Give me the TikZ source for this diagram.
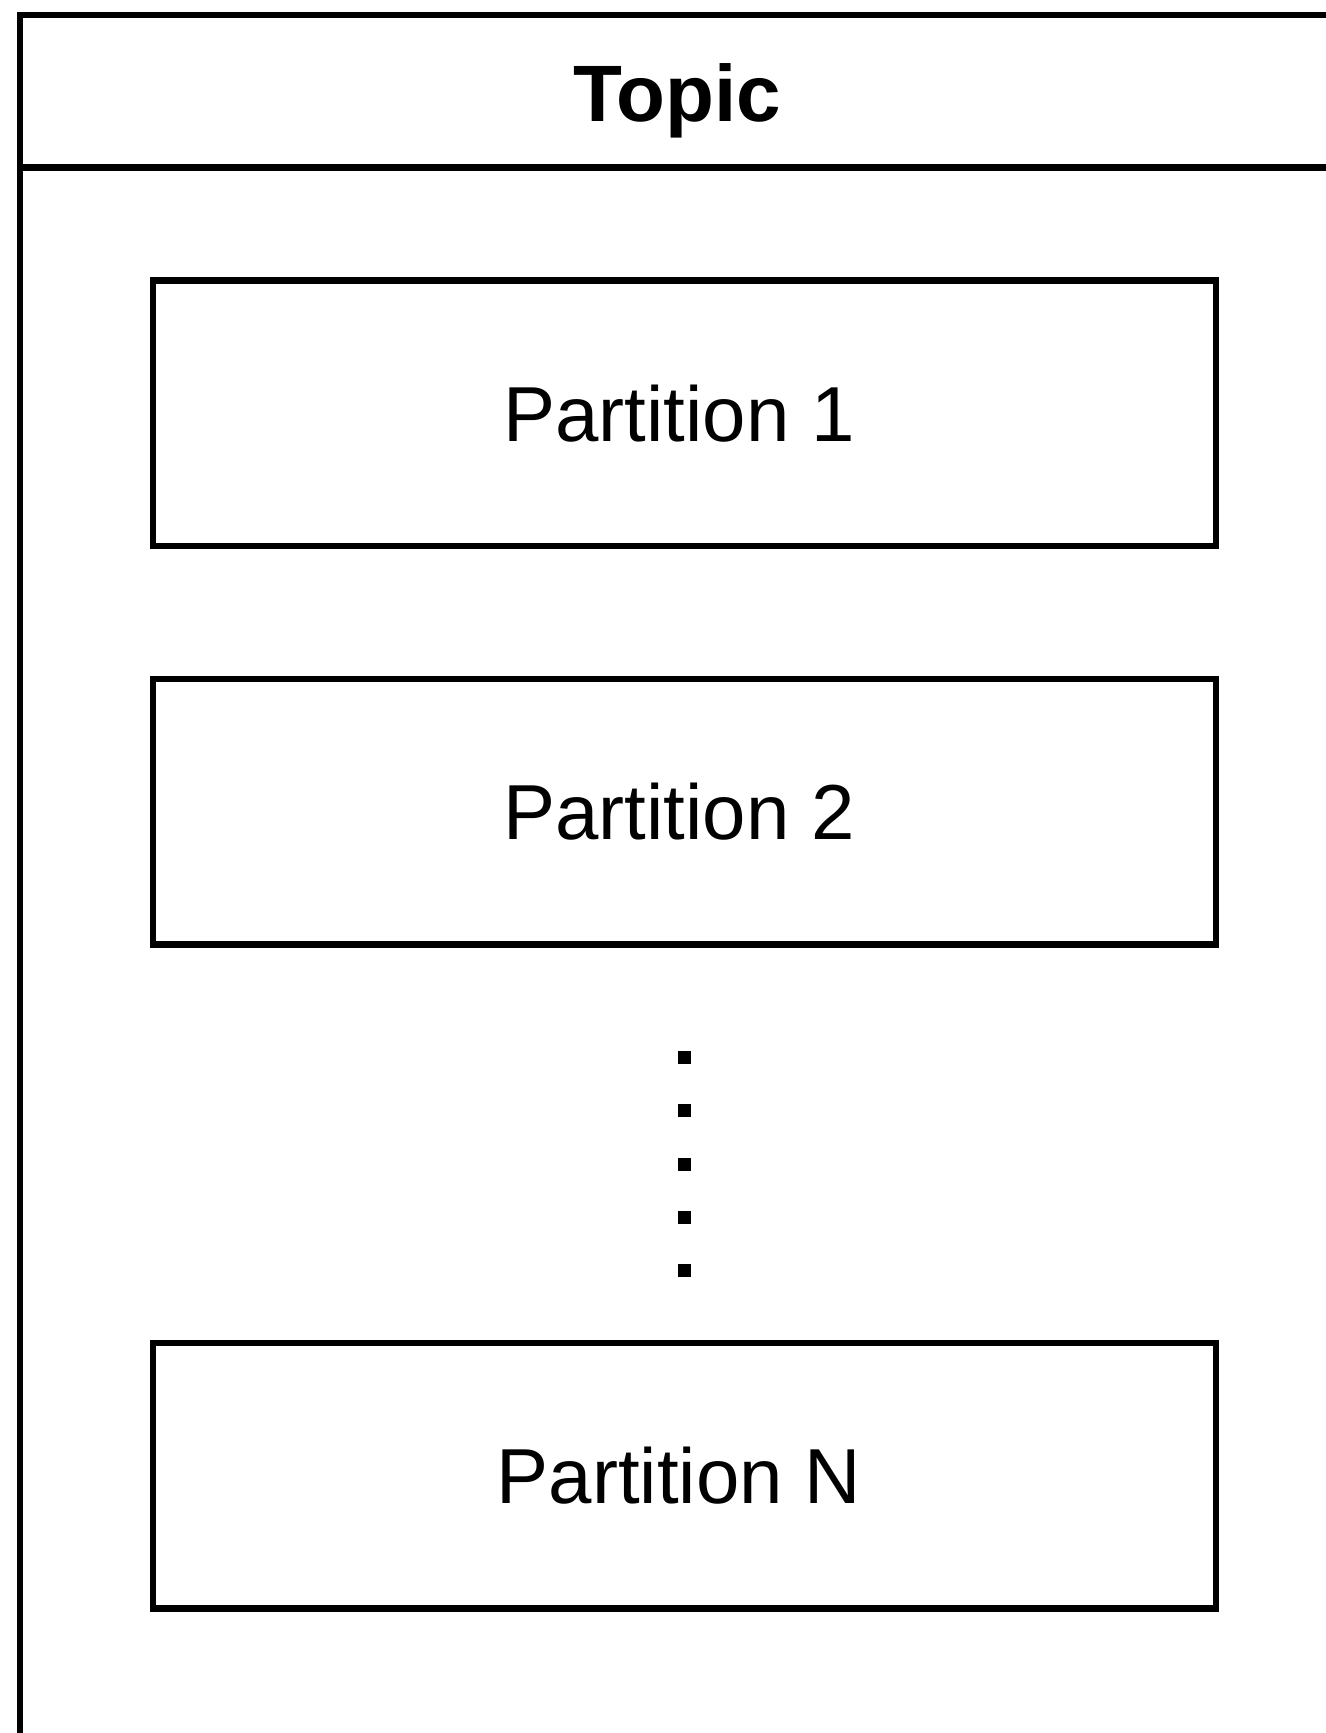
\documentclass[tikz,border=0pt]{standalone}
\usepackage{fontspec}
\setmainfont{Liberation Sans}
\begin{document}
\begin{tikzpicture}[x=0.5pt,y=-0.5pt,
  frame/.style={line width=3.25pt,line cap=rect},
  partbox/.style={draw,line width=3.25pt,inner sep=0pt,minimum width=531.5pt,minimum height=132.75pt,font=\fontsize{39}{47}\selectfont},
  title/.style={font=\fontsize{40}{48}\selectfont\bfseries,inner sep=0pt,anchor=base},
  dot/.style={fill=black,inner sep=0pt,minimum size=6.5pt}]
\useasboundingbox (0,0) rectangle (1326,1733);
\fill[white] (0,0) rectangle (1326,1733);
% container
\draw[frame] (1340,15) -- (20,15) -- (20,1745);
\draw[frame] (20,167.5) -- (1340,167.5);
\node[title] (topic) at (677,122) {Topic};
% partitions
\node[partbox] (p1) at (684.5,413.25) {Partition 1\kern5.5pt};
\node[partbox] (p2) at (684.5,811.5) {Partition 2\kern5.5pt};
\node[partbox] (pn) at (684.5,1475.5) {Partition N\kern5.5pt};
% ellipsis dots
\foreach \i/\yy in {1/1057,2/1110.5,3/1164,4/1217,5/1270}
  \node[dot] (d\i) at (684.5,\yy) {};
\end{tikzpicture}
\end{document}
